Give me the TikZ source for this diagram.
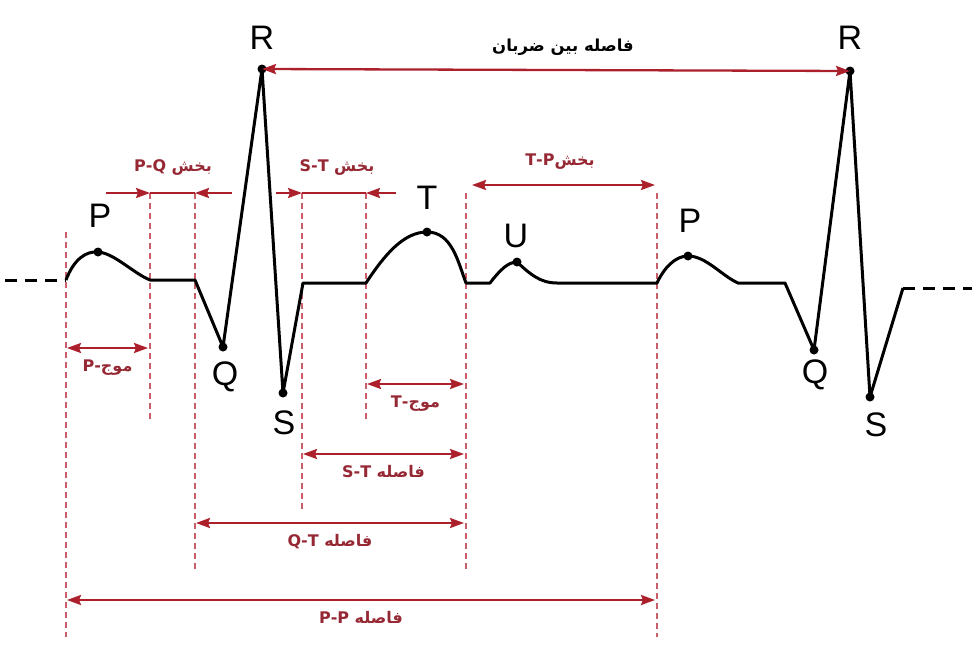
\documentclass[tikz,border=0pt]{standalone}
\usepackage{fontspec}
\setmainfont{Liberation Sans}
\newfontfamily\arabicfont[Script=Arabic]{DejaVu Sans}
\TeXXeTstate=1
\usepackage{tikz}
\usetikzlibrary{arrows.meta, positioning}
\definecolor{ecgred}{RGB}{172, 32, 44}
\definecolor{ecglabel}{RGB}{150, 40, 52}
\definecolor{guidered}{RGB}{200, 95, 105}

\tikzset{
  wave/.style={line width=3pt, black, line join=round},
  baseline dash/.style={line width=3pt, black, dash pattern=on 12pt off 8pt},
  guide/.style={guidered, line width=1.4pt, dash pattern=on 6pt off 4pt},
  dimline/.style={ecgred, line width=2.3pt},
  tip/.tip={Stealth[length=14pt, width=10pt, inset=2pt]},
  ecgdot/.style={circle, fill=black, inner sep=0pt, minimum size=9pt},
  peak/.style={font=\fontsize{34}{36}\selectfont},
  arlabel/.style={text=ecglabel, font=\arabicfont\bfseries\fontsize{16}{18}\selectfont},
}

\begin{document}
\begin{tikzpicture}[x=1pt, y=-1pt]
  \useasboundingbox (0,0) rectangle (976,645);

  % red guide lines
  \foreach \n/\x/\ya/\yb in {a/66/232/637, b/150/193/420, c/195/193/570, d/302/193/510,
                             e/366/193/420, f/466/193/570, g/657/193/637} {
    \coordinate (g\n) at (\x,\ya);
    \draw[guide] (\x,\ya) -- (\x,\yb);
  }

  % wave points
  \coordinate (P1) at (98,252);
  \coordinate (Q1) at (223,347);
  \coordinate (R1) at (262,69);
  \coordinate (S1) at (283,393);
  \coordinate (T1) at (427,232);
  \coordinate (U1) at (517,262);
  \coordinate (P2) at (688,256);
  \coordinate (Q2) at (814,350);
  \coordinate (R2) at (850,71);
  \coordinate (S2) at (870,397);

  % ECG trace
  \draw[baseline dash] (5,280) -- (66,280);
  \draw[wave] (66,280) .. controls (74,259) and (86,251) .. (P1)
    .. controls (114,253) and (133,273) .. (150,280) -- (195,280)
    -- (Q1) -- (R1) -- (S1) -- (303,283) -- (366,283)
    .. controls (385,254) and (404,232) .. (T1)
    .. controls (452,232) and (458,262) .. (466,283) -- (490,283)
    .. controls (500,270) and (508,262) .. (U1)
    .. controls (530,274) and (540,283) .. (557,283) -- (657,283)
    .. controls (664,268) and (675,256) .. (P2)
    .. controls (706,256) and (722,276) .. (738,283) -- (785,283)
    -- (Q2) -- (R2) -- (S2) -- (903,288);
  \draw[baseline dash] (903,288) -- (972,288);

  \foreach \p in {P1,Q1,R1,S1,T1,U1,P2,Q2,R2,S2} {
    \node[ecgdot] (dot\p) at (\p) {};
  }

  % peak letters
  \node[peak] (lR1) at (262,38) {R};
  \node[peak] (lP1) at (100,216) {P};
  \node[peak] (lQ1) at (225,377) {Q};
  \node[peak] (lS1) at (284,423) {S};
  \node[peak] (lT1) at (427,198) {T};
  \node[peak] (lU1) at (516,236) {U};
  \node[peak] (lP2) at (690,221) {P};
  \node[peak] (lR2) at (850,38) {R};
  \node[peak] (lQ2) at (815,375) {Q};
  \node[peak] (lS2) at (876,425) {S};

  % interval between beats
  \draw[dimline, tip-tip] (R1) -- (R2);
  \node[font=\arabicfont\bfseries\fontsize{16.5}{19}\selectfont] (beat) at (563,47)
    {\beginR فاصله بین ضربان\endR};

  % segments (arrows pointing in)
  \coordinate (pqL) at (106,193);
  \coordinate (pqR) at (232,193);
  \draw[dimline, -tip] (pqL) -- (gb);
  \draw[dimline, -tip] (pqR) -- (gc);
  \draw[dimline] (gb) -- (gc);
  \node[arlabel] (pq) at (173,168) {\beginR بخش \beginL P-Q\endL\endR};

  \coordinate (stL) at (276,193);
  \coordinate (stR) at (396,193);
  \draw[dimline, -tip] (stL) -- (gd);
  \draw[dimline, -tip] (stR) -- (ge);
  \draw[dimline] (gd) -- (ge);
  \node[arlabel] (st) at (337,168) {\beginR بخش \beginL S-T\endL\endR};

  \coordinate (tpL) at (472,185);
  \coordinate (tpR) at (655,185);
  \draw[dimline, tip-tip] (tpL) -- (tpR);
  \node[arlabel] (tp) at (560,162) {\beginR بخش\beginL T-P\endL\endR};

  % waves and intervals (labels below)
  \foreach \n/\xa/\xb/\y/\lab in {pw/67/148/348/{موج-\beginL P\endL},
                                  tw/367/464/384/{موج-\beginL T\endL},
                                  sti/303/464/454/{فاصله \beginL S-T\endL},
                                  qti/196/464/523/{فاصله \beginL Q-T\endL},
                                  ppi/67/655/600/{فاصله \beginL P-P\endL}} {
    \coordinate (\n L) at (\xa,\y);
    \coordinate (\n R) at (\xb,\y);
    \draw[dimline, tip-tip] (\n L) -- (\n R)
      node[arlabel, midway, below=7pt] (\n lab) {\beginR\lab\endR};
  }
\end{tikzpicture}
\end{document}
